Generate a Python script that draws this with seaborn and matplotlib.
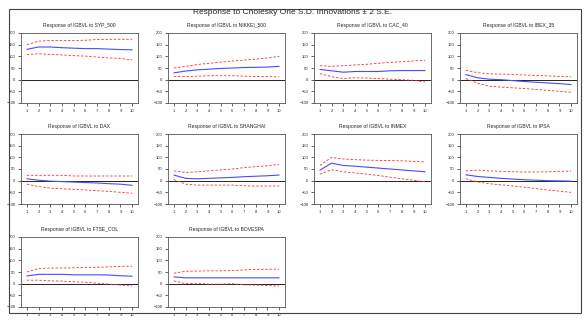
import matplotlib
matplotlib.use("Agg")
import matplotlib.pyplot as plt
import seaborn as sns
import numpy as np
import pandas as pd

# Impulse responses of IGBVL (periods 1..10)
periods = list(range(1, 11))

shocks = ["SYP_500", "NIKKEI_500", "CAC_40", "IBEX_35", "DAX",
          "SHANGHAI", "INMEX", "IPSA", "FTSE_COL", "BOVESPA"]

resp_syp = [130, 140, 140, 137, 135, 133, 133, 131, 129, 128]
upper_syp = [150, 165, 168, 168, 168, 169, 172, 173, 173, 173]
lower_syp = [107, 111, 108, 106, 103, 101, 97, 93, 91, 85]

resp_nikkei = [29, 37, 42, 45, 48, 50, 52, 53, 54, 57]
upper_nikkei = [50, 57, 65, 70, 75, 80, 84, 88, 93, 100]
lower_nikkei = [13, 13, 15, 17, 17, 17, 15, 14, 13, 12]

resp_cac = [44, 38, 32, 35, 35, 35, 38, 39, 39, 39]
upper_cac = [60, 57, 60, 63, 66, 70, 74, 77, 80, 83]
lower_cac = [26, 13, 5, 8, 7, 5, 2, 0, -3, -10]

resp_ibex = [22, 8, 2, 0, -4, -8, -11, -14, -17, -21]
upper_ibex = [40, 30, 25, 24, 22, 20, 18, 16, 14, 12]
lower_ibex = [5, -15, -28, -32, -35, -38, -42, -46, -50, -54]

resp_dax = [8, 2, -2, -4, -6, -8, -10, -13, -15, -20]
upper_dax = [23, 23, 23, 23, 20, 20, 20, 20, 20, 20]
lower_dax = [-15, -25, -32, -35, -37, -40, -43, -46, -50, -54]

resp_shanghai = [24, 10, 8, 10, 12, 14, 17, 19, 21, 24]
upper_shanghai = [42, 35, 38, 42, 46, 50, 56, 60, 64, 70]
lower_shanghai = [5, -15, -19, -19, -19, -19, -22, -23, -23, -23]

resp_inmex = [45, 75, 65, 62, 58, 54, 50, 46, 42, 38]
upper_inmex = [65, 100, 93, 90, 88, 87, 86, 85, 83, 80]
lower_inmex = [28, 47, 38, 33, 28, 22, 15, 8, 2, -5]

resp_ipsa = [25, 18, 14, 10, 7, 4, 2, 0, -1, -2]
upper_ipsa = [42, 45, 42, 40, 38, 37, 37, 38, 40, 41]
lower_ipsa = [8, -5, -13, -18, -23, -28, -34, -40, -45, -50]

resp_ftse = [33, 40, 40, 40, 38, 38, 38, 37, 34, 32]
upper_ftse = [50, 65, 67, 67, 68, 70, 70, 72, 74, 75]
lower_ftse = [15, 15, 12, 11, 8, 6, 2, -2, -6, -10]

resp_bovespa = [29, 25, 25, 25, 25, 25, 25, 25, 25, 25]
upper_bovespa = [45, 53, 54, 55, 55, 56, 59, 61, 62, 62]
lower_bovespa = [12, 0, 2, -2, -2, 0, -5, -6, -8, -10]

responses = [resp_syp, resp_nikkei, resp_cac, resp_ibex, resp_dax,
             resp_shanghai, resp_inmex, resp_ipsa, resp_ftse, resp_bovespa]
uppers = [upper_syp, upper_nikkei, upper_cac, upper_ibex, upper_dax,
          upper_shanghai, upper_inmex, upper_ipsa, upper_ftse, upper_bovespa]
lowers = [lower_syp, lower_nikkei, lower_cac, lower_ibex, lower_dax,
          lower_shanghai, lower_inmex, lower_ipsa, lower_ftse, lower_bovespa]

yticks = [-100, -50, 0, 50, 100, 150, 200]

sns.set_theme(style="ticks")
plt.rcParams['font.family'] = ['Liberation Sans', 'DejaVu Sans']

W, H = 585, 325
fig = plt.figure(figsize=(W / 100, H / 100), dpi=100)

# outer frame and overall title
fig.patches.append(plt.Rectangle((9 / W, 1 - 313 / H), 572 / W, 304 / H,
                                 transform=fig.transFigure, fill=False,
                                 edgecolor="#444444", linewidth=0.8))
fig.text(0.5, 1 - 13 / H, "Response to Cholesky One S.D. Innovations \u00b1 2 S.E.",
         ha="center", va="center", fontsize=6)

col_left = [21, 168, 314, 460]
row_top = [33, 134, 237]
ax_w, ax_h = 117, 70

for i, name in enumerate(shocks):
    r, c = divmod(i, 4)
    ax = fig.add_axes([col_left[c] / W, 1 - (row_top[r] + ax_h) / H, ax_w / W, ax_h / H])
    df = pd.DataFrame({"period": periods, "resp": responses[i],
                       "upper": uppers[i], "lower": lowers[i]})
    ax.axhline(0, color="black", linewidth=0.6)
    sns.lineplot(data=df, x="period", y="resp", ax=ax, color="#4a4aff", linewidth=0.8)
    sns.lineplot(data=df, x="period", y="upper", ax=ax, color="#ff3030",
                 linewidth=0.6, linestyle=(0, (3, 2)))
    sns.lineplot(data=df, x="period", y="lower", ax=ax, color="#ff3030",
                 linewidth=0.6, linestyle=(0, (3, 2)))
    ax.set_xlim(0.5, 10.5)
    ax.set_ylim(-100, 200)
    ax.set_xticks(periods)
    ax.set_yticks(yticks)
    ax.set_xlabel("")
    ax.set_ylabel("")
    ax.set_title(f"Response of IGBVL to {name}", fontsize=3.6, pad=4)
    ax.tick_params(labelsize=3, length=2, width=0.5, pad=2)
    for s in ax.spines.values():
        s.set_linewidth(0.6)
        s.set_color("#555555")
    ax.grid(False)

plt.savefig("out.png", dpi=100)
